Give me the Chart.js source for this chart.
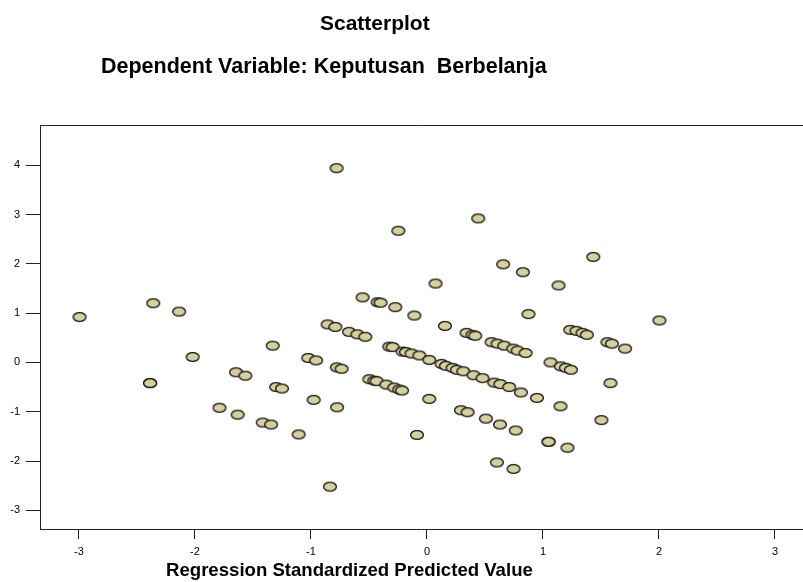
<!DOCTYPE html>
<html lang="id">
<head>
<meta charset="UTF-8">
<title>Scatterplot</title>
<style>
body { margin: 0; background: #fff; }
#wrap { position: relative; width: 803px; height: 582px; overflow: hidden; }
#chart { position: absolute; left: 0; top: 0; }
.txt { position: absolute; white-space: pre; font-family: 'Liberation Sans', Arial, sans-serif; font-weight: bold; color: #000; line-height: 1; }
#title { left: 320px; top: 12px; font-size: 21px; }
#subtitle { left: 101px; top: 56px; font-size: 21.5px; }
#xtitle { left: 166px; top: 561px; font-size: 18.6px; }
</style>
</head>
<body>
<div id="wrap">
  <!-- the plot runs off the right edge in the original, so the canvas is a bit wider than the frame -->
  <canvas id="chart" width="809" height="582"></canvas>
  <div class="txt" id="title">Scatterplot</div>
  <div class="txt" id="subtitle">Dependent Variable: Keputusan  Berbelanja</div>
  <div class="txt" id="xtitle">Regression Standardized Predicted Value</div>
</div>

<script src="https://cdn.jsdelivr.net/npm/chart.js"></script>
<script>
const xTickValues = [-3, -2, -1, 0, 1, 2, 3];
const yTickValues = [-3, -2, -1, 0, 1, 2, 3, 4];

// regression standardized predicted value
const predicted = [
  -2.995, -2.360, -2.137, -0.779, -0.247, 0.442, 0.657, 0.827, 0.074, -0.555,
  -0.425, -0.400, -0.273, -0.109, 0.875, -0.856, -0.790, -0.672, -0.600, -0.532,
  0.155, 0.341, 0.393, 0.416, 0.557, 0.608, 0.666, 0.744, 0.781, 0.850,
  1.433, 1.134, 2.004, 1.235, 1.289, 1.341, 1.378, 1.556, 1.594, 1.708,
  1.065, 1.154, 1.198, 1.241, 1.582, 0.810, 0.948, 1.151, 1.504, 0.765,
  1.048, 1.048, 1.211, 0.746, -1.330, -0.325, -0.296, -0.210, -0.181, -0.133,
  -0.066, 0.020, 0.126, 0.164, 0.221, 0.258, 0.313, 0.402, 0.479, 0.580,
  0.632, 0.709, -1.023, -0.956, -0.777, -0.736, -1.300, -1.250, -0.497, -0.454,
  -0.434, -0.350, -0.282, -0.239, -0.215, -0.977, -0.775, 0.020, 0.293, 0.350,
  0.508, 0.629, -1.416, -1.344, -1.106, -0.086, 0.603, -0.836, -2.387, -2.387,
  -2.020, -1.646, -1.566, -1.789, -1.632
];

// regression standardized residual
const residual = [
  0.92, 1.20, 1.03, 3.94, 2.67, 2.92, 1.99, 1.83, 1.60, 1.32,
  1.22, 1.21, 1.12, 0.95, 0.98, 0.77, 0.72, 0.62, 0.57, 0.52,
  0.74, 0.60, 0.56, 0.54, 0.41, 0.38, 0.34, 0.28, 0.24, 0.19,
  2.14, 1.56, 0.85, 0.66, 0.64, 0.60, 0.56, 0.41, 0.38, 0.28,
  0.00, -0.08, -0.11, -0.15, -0.42, -0.61, -0.72, -0.89, -1.17, -1.38,
  -1.61, -1.61, -1.73, -2.16, 0.34, 0.32, 0.31, 0.22, 0.21, 0.18,
  0.14, 0.05, -0.03, -0.07, -0.11, -0.15, -0.18, -0.26, -0.32, -0.41,
  -0.44, -0.50, 0.09, 0.04, -0.10, -0.13, -0.50, -0.53, -0.34, -0.37,
  -0.38, -0.45, -0.51, -0.55, -0.57, -0.76, -0.91, -0.74, -0.97, -1.01,
  -1.14, -1.26, -1.22, -1.26, -1.46, -1.47, -2.03, -2.52, -0.42, -0.42,
  0.11, -0.20, -0.27, -0.92, -1.06
];

// SPSS style marker: flat tan ellipse with dark rim
const marker = document.createElement('canvas');
marker.width = 16;
marker.height = 12;
const mctx = marker.getContext('2d');
mctx.beginPath();
mctx.ellipse(8, 6, 6.4, 4.4, 0, 0, Math.PI * 2);
mctx.fillStyle = '#d6d09c';
mctx.fill();
mctx.lineWidth = 1.3;
mctx.strokeStyle = '#111';
mctx.stroke();

const points = predicted.map((x, i) => ({ x: x, y: residual[i] }));
const tickFont = { family: "'Liberation Sans', Arial, sans-serif", size: 11 };

const noPad = s => { s.paddingLeft = 0; s.paddingRight = 0; s.paddingTop = 0; s.paddingBottom = 0; };

new Chart(document.getElementById('chart'), {
    type: 'scatter',
    data: {
        datasets: [{
            data: points,
            pointStyle: marker,
            pointRadius: 6
        }]
    },
    options: {
        responsive: false,
        animation: false,
        events: [],
        layout: { padding: { top: 125, right: 0, bottom: 0, left: 0 } },
        plugins: { legend: { display: false }, tooltip: { enabled: false } },
        scales: {
            x: {
                type: 'linear',
                position: 'bottom',
                min: -3.336,
                max: 3.233,
                afterFit: s => { s.height = 53; noPad(s); },
                afterBuildTicks: s => { s.ticks = xTickValues.map(v => ({ value: v })); },
                grid: { drawOnChartArea: false, drawTicks: true, tickLength: 10, color: '#222' },
                border: { display: true, color: '#222', width: 1 },
                ticks: { font: tickFont, color: '#000', padding: 6, maxRotation: 0, autoSkip: false }
            },
            xTop: {
                type: 'linear',
                position: 'top',
                min: -3.336,
                max: 3.233,
                afterFit: s => { s.height = 0; noPad(s); },
                grid: { display: false },
                border: { display: true, color: '#222', width: 1 },
                ticks: { display: false }
            },
            y: {
                type: 'linear',
                min: -3.379,
                max: 4.815,
                afterFit: s => { s.width = 40; noPad(s); },
                afterBuildTicks: s => { s.ticks = yTickValues.map(v => ({ value: v })); },
                grid: { drawOnChartArea: false, drawTicks: true, tickLength: 14, color: '#222' },
                border: { display: true, color: '#222', width: 1 },
                ticks: { font: tickFont, color: '#000', padding: 6, autoSkip: false }
            }
        }
    }
});
</script>
</body>
</html>
